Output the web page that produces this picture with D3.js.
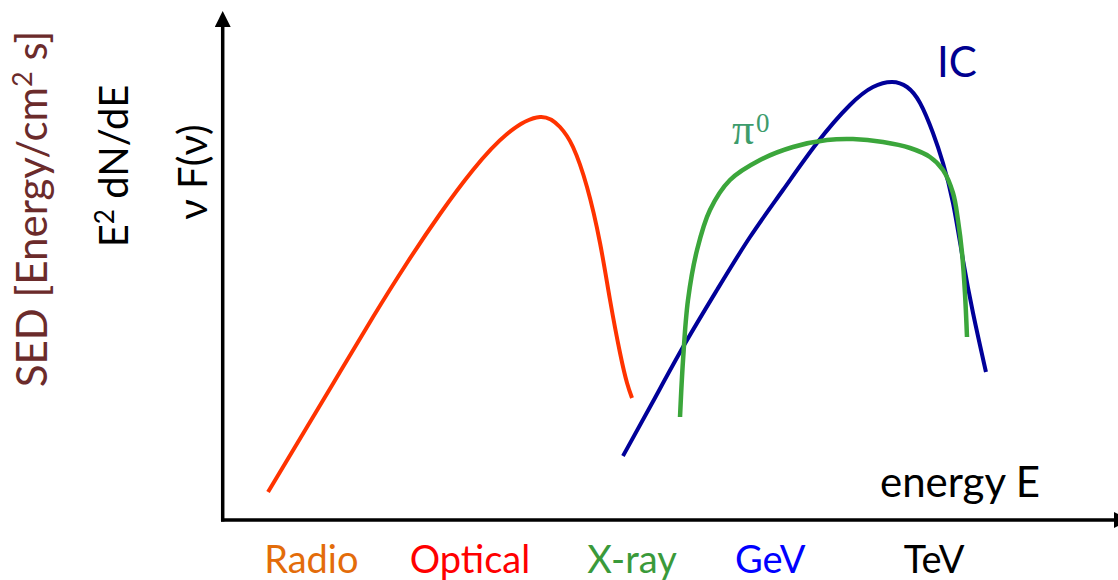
<!DOCTYPE html>
<html>
<head>
<meta charset="utf-8">
<script src="https://cdn.jsdelivr.net/npm/d3@7"></script>
<style>
  html, body { margin: 0; padding: 0; background: #fff; }
  svg { display: block; }
  text { font-family: Lato, "Open Sans", sans-serif; }
</style>
</head>
<body>
<svg id="chart" width="1118" height="580"></svg>
<script>
// Schematic spectral energy distribution: synchrotron, inverse Compton and pion-decay humps.
// x: energy (arbitrary log units, 0-100), y: E^2 dN/dE (arbitrary units, 0-100)

const bandNames = ["Radio", "Optical", "X-ray", "GeV", "TeV"];
const bandPositions = [9.8, 27.7, 46.0, 61.6, 80.1];

const syncX = [4.97, 9.37, 13.09, 16.82, 20.65, 24.38, 28.10, 31.94, 35.67, 37.92, 39.39, 40.97, 42.44, 43.57, 44.70, 45.49, 46.05];
const syncY = [5.4, 18.4, 29.4, 40.4, 51.2, 61.0, 69.8, 77.0, 80.4, 78.4, 74.4, 66.4, 55.2, 43.8, 33.2, 27.2, 24.2];

const icX = [45.03, 48.42, 51.81, 55.64, 59.37, 63.09, 66.93, 70.65, 73.25, 75.40, 77.09, 78.56, 80.02, 81.15, 82.28, 83.41, 84.54, 86.00];
const icY = [12.6, 23.5, 34.4, 45.8, 56.4, 65.8, 75.2, 82.8, 86.4, 87.4, 86.4, 83.2, 77.2, 71.2, 63.2, 51.8, 41.2, 29.4];

const pionX = [51.47, 51.81, 52.37, 53.39, 54.85, 57.11, 60.50, 64.22, 68.06, 70.99, 74.38, 77.43, 79.68, 81.15, 82.28, 82.84, 83.30, 83.63, 83.86];
const pionY = [20.4, 31.8, 43.8, 53.8, 61.8, 67.8, 71.8, 74.4, 75.8, 76.0, 75.4, 74.2, 72.4, 69.8, 65.2, 59.8, 53.2, 45.2, 36.4];

const bandColors = ["#e36c0a", "#ff0000", "#3a9a3a", "#0000ff", "#000000"];

const svg = d3.select("#chart");

const x = d3.scaleLinear().domain([0, 100]).range([224, 1110]);
const y = d3.scaleLinear().domain([0, 100]).range([519, 19]);

// arrowheads for the two axes
const defs = svg.append("defs");
defs.append("marker")
  .attr("id", "arrow")
  .attr("viewBox", "0 0 16 16")
  .attr("refX", 0).attr("refY", 8)
  .attr("markerWidth", 16).attr("markerHeight", 16)
  .attr("markerUnits", "userSpaceOnUse")
  .attr("orient", "auto")
  .append("path")
  .attr("d", "M0,0 L16,8 L0,16 Z")
  .attr("fill", "#000");

// axis lines
svg.append("line")
  .attr("x1", 222.7).attr("y1", 521.5)
  .attr("x2", 222.7).attr("y2", 27)
  .attr("stroke", "#000").attr("stroke-width", 3.5)
  .attr("marker-end", "url(#arrow)");

svg.append("line")
  .attr("x1", 221).attr("y1", 520)
  .attr("x2", 1114).attr("y2", 520)
  .attr("stroke", "#000").attr("stroke-width", 3.5)
  .attr("marker-end", "url(#arrow)");

// band labels along the energy axis
const xAxis = d3.axisBottom(x)
  .tickValues(bandPositions)
  .tickFormat((d, i) => bandNames[i])
  .tickSize(0)
  .tickPadding(26);

const gx = svg.append("g")
  .attr("transform", "translate(0,520)")
  .call(xAxis);
gx.select(".domain").remove();
gx.selectAll(".tick text")
  .attr("font-family", "Lato, sans-serif")
  .attr("font-size", 38)
  .attr("fill", (d, i) => bandColors[i]);

// spectral curves
const line = d3.line()
  .x(d => x(d[0]))
  .y(d => y(d[1]))
  .curve(d3.curveNatural);

const zipXY = (xs, ys) => xs.map((v, i) => [v, ys[i]]);

svg.append("path")
  .attr("d", line(zipXY(syncX, syncY)))
  .attr("fill", "none").attr("stroke", "#ff3300").attr("stroke-width", 4);

svg.append("path")
  .attr("d", line(zipXY(icX, icY)))
  .attr("fill", "none").attr("stroke", "#000099").attr("stroke-width", 4);

svg.append("path")
  .attr("d", line.curve(d3.curveCatmullRom.alpha(0.5))(zipXY(pionX, pionY)))
  .attr("fill", "none").attr("stroke", "#3ba63b").attr("stroke-width", 4.5);

// curve labels
svg.append("text")
  .attr("x", 937).attr("y", 77)
  .attr("font-size", 42)
  .attr("fill", "#000090")
  .text("IC");

svg.append("text")
  .attr("x", 732).attr("y", 144)
  .attr("fill", "#3d9c6c")
  .style("font-family", "'Liberation Serif', 'DejaVu Serif', serif")
  .attr("font-size", 44)
  .text("π");
svg.append("text")
  .attr("x", 756).attr("y", 132)
  .attr("fill", "#3d9c6c")
  .style("font-family", "'Liberation Serif', 'DejaVu Serif', serif")
  .attr("font-size", 27)
  .text("0");

svg.append("text")
  .attr("x", 880).attr("y", 497)
  .attr("font-size", 42)
  .attr("fill", "#000")
  .text("energy E");

// vertical axis titles
const sed = svg.append("text")
  .attr("transform", "translate(47,209) rotate(-90)")
  .attr("text-anchor", "middle")
  .attr("font-size", 42)
  .attr("fill", "#6b2b2b");
sed.append("tspan").text("SED [Energy/cm");
sed.append("tspan").attr("font-size", 27).attr("dy", -15).text("2");
sed.append("tspan").attr("dy", 15).text(" s]");

const e2 = svg.append("text")
  .attr("transform", "translate(128,166) rotate(-90)")
  .attr("text-anchor", "middle")
  .attr("font-size", 40)
  .attr("fill", "#000");
e2.append("tspan").text("E");
e2.append("tspan").attr("font-size", 26).attr("dy", -14).text("2");
e2.append("tspan").attr("dy", 14).text(" dN/dE");

svg.append("text")
  .attr("transform", "translate(207,172) rotate(-90)")
  .attr("text-anchor", "middle")
  .attr("font-size", 40)
  .attr("fill", "#000")
  .text("ν F(ν)");
</script>
</body>
</html>
